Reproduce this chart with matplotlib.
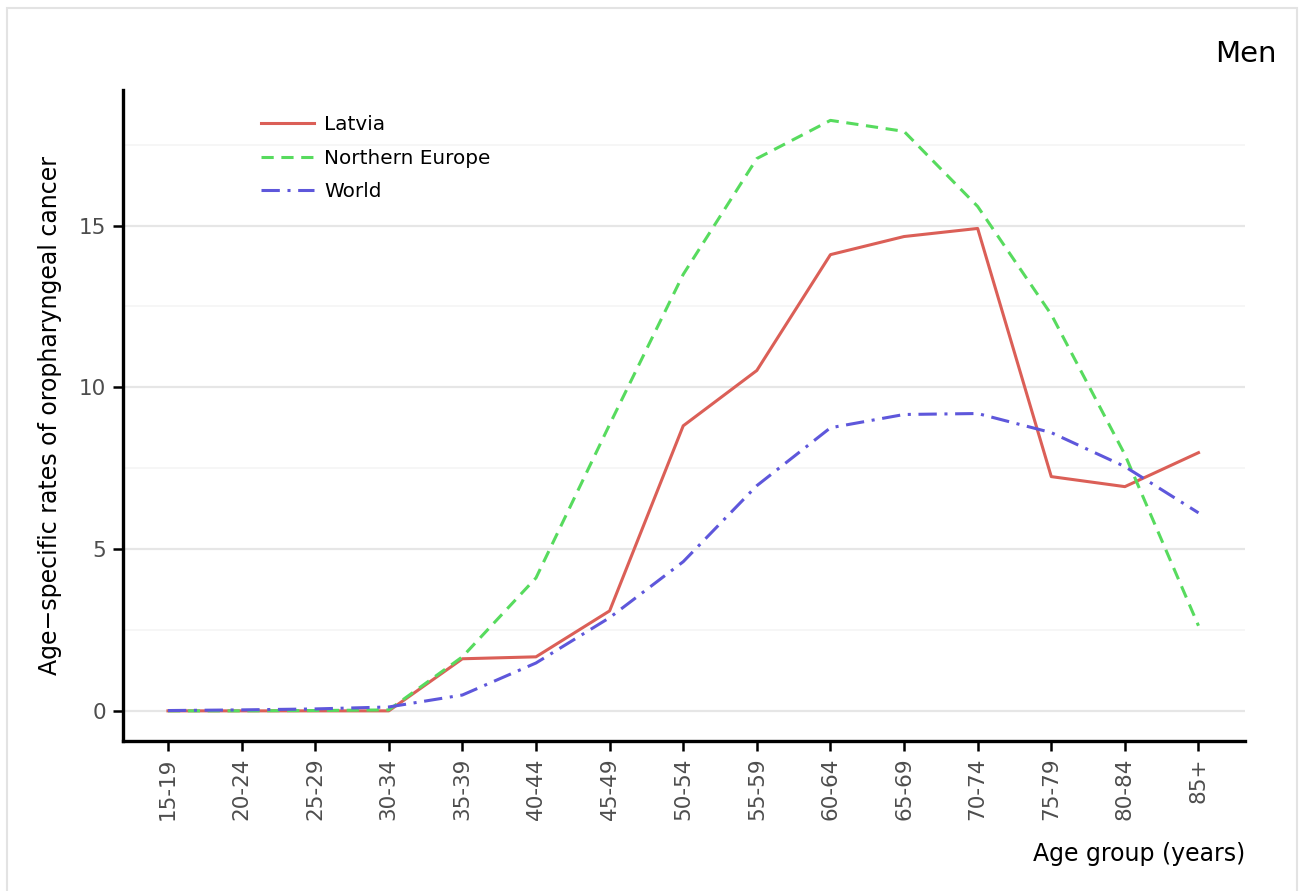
import matplotlib.pyplot as plt
from matplotlib.patches import Rectangle

# age groups and age-specific rates
age_groups = ["15-19", "20-24", "25-29", "30-34", "35-39", "40-44", "45-49",
              "50-54", "55-59", "60-64", "65-69", "70-74", "75-79", "80-84", "85+"]
latvia = [0.0, 0.0, 0.0, 0.0, 1.61, 1.67, 3.09, 8.81, 10.52, 14.1, 14.66, 14.91, 7.24, 6.93, 7.98]
northern_europe = [0.0, 0.0, 0.01, 0.03, 1.67, 4.11, 8.85, 13.49, 17.07, 18.25, 17.91, 15.59, 12.25, 7.92, 2.63]
world = [0.01, 0.03, 0.06, 0.12, 0.49, 1.48, 2.88, 4.61, 6.96, 8.75, 9.16, 9.19, 8.6, 7.55, 6.12]

fig = plt.figure(figsize=(13.09, 8.91), dpi=100)
ax = fig.add_axes([0.094, 0.1684, 0.857, 0.731])

x = range(len(age_groups))
ax.plot(x, latvia, color="#db5f57", lw=2.2, ls="-", label="Latvia")
ax.plot(x, northern_europe, color="#57db5e", lw=2.2, ls=(0, (4, 2.5)), label="Northern Europe")
ax.plot(x, world, color="#5e57db", lw=2.2, ls=(0, (6, 2.5, 1, 2.5)), label="World")

ax.set_xlim(-0.61, 14.63)
ax.set_ylim(-0.93, 19.2)
ax.set_xticks(list(x))
ax.set_xticklabels(age_groups, rotation=90)
ax.set_yticks([0, 5, 10, 15])
ax.set_yticks([2.5, 7.5, 12.5, 17.5], minor=True)
ax.tick_params(axis="y", which="minor", length=0)
ax.tick_params(which="major", length=7, width=1.8, color="black",
               labelcolor="#4d4d4d", labelsize=15.5, pad=5)

ax.grid(axis="y", which="major", color="#e6e6e6", lw=1.6)
ax.grid(axis="y", which="minor", color="#f6f6f6", lw=1.3)
ax.set_axisbelow(True)

for s in ["top", "right"]:
    ax.spines[s].set_visible(False)
for s in ["left", "bottom"]:
    ax.spines[s].set_linewidth(2.4)

ax.set_ylabel("Age\u2212specific rates of oropharyngeal cancer", fontsize=17, labelpad=12)
ax.set_xlabel("Age group (years)", fontsize=17, loc="right", labelpad=16)

ax.legend(loc="upper left", bbox_to_anchor=(0.107, 0.988), frameon=False,
          fontsize=14.4, handlelength=2.65, handletextpad=0.5, labelspacing=0.72)

fig.text(0.975, 0.939, "Men", ha="right", va="center", fontsize=21)

# light frame around the panel
fig.patches.append(Rectangle((0.0055, -0.02), 0.9855, 1.011, transform=fig.transFigure,
                             fill=False, edgecolor="#e3e3e3", lw=1.5))

plt.savefig("out.png", dpi=100)
